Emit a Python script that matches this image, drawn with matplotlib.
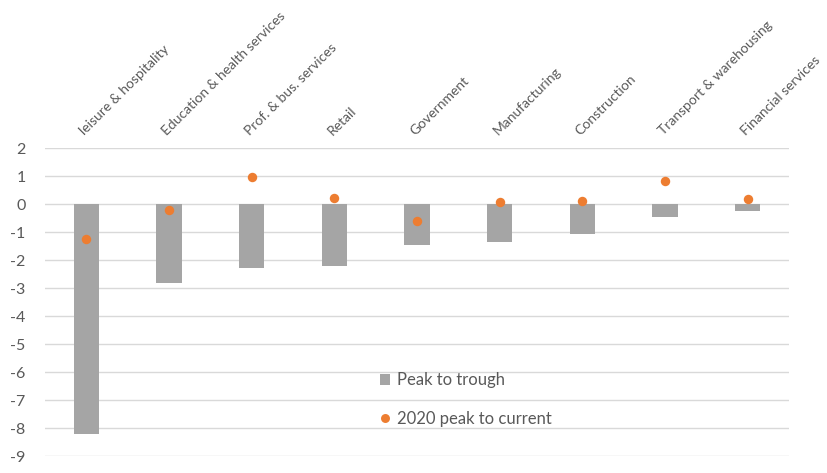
import numpy as np
import matplotlib
matplotlib.use('Agg')
import matplotlib.pyplot as plt
from matplotlib import transforms

sectors = ['leisure & hospitality', 'Education & health services', 'Prof. & bus. services',
           'Retail', 'Government', 'Manufacturing', 'Construction',
           'Transport & warehousing', 'Financial services']
peak_to_trough = [-8.2, -2.83, -2.28, -2.23, -1.46, -1.34, -1.08, -0.46, -0.24]
peak_to_current = [-1.25, -0.22, 0.95, 0.22, -0.6, 0.07, 0.11, 0.83, 0.17]
yticks = list(range(-9, 3))

grey_txt = '#595959'
plt.rcParams['font.family'] = ['Lato', 'DejaVu Sans']

fig = plt.figure(figsize=(8.27, 4.73), dpi=100)
ax = fig.add_axes([45/827, 1 - 456/473, 744/827, 308/473])

x = np.arange(len(sectors))
bars = ax.bar(x, peak_to_trough, width=0.31, color='#A5A5A5', label='Peak to trough', zorder=2)
dots, = ax.plot(x, peak_to_current, 'o', color='#ED7D31', markersize=6.8, markeredgewidth=0,
                label='2020 peak to current', zorder=3)

ax.set_xlim(-0.5, len(sectors) - 0.5)
ax.set_ylim(-9, 2)
ax.set_yticks(yticks)
ax.set_yticklabels([str(v) for v in yticks])
ax.grid(axis='y', color='#D9D9D9', linewidth=1, zorder=0)
ax.set_axisbelow(True)
ax.set_xticks([])
for s in ax.spines.values():
    s.set_visible(False)
ax.tick_params(axis='y', length=0, labelsize=11.5, labelcolor=grey_txt, pad=14)

# category names sit above the plot, slanted
trans = transforms.blended_transform_factory(ax.transData, ax.transAxes)
trans = trans + transforms.ScaledTranslation(0, 12/100, fig.dpi_scale_trans)
for xi, name in zip(x, sectors):
    ax.text(xi - 0.02, 1.0, name, transform=trans, rotation=45, rotation_mode='anchor',
            ha='left', va='baseline', fontsize=10, color=grey_txt)

leg = ax.legend([bars, dots], ['Peak to trough', '2020 peak to current'],
                loc='upper left', bbox_to_anchor=(0.43, 0.32), frameon=False,
                labelspacing=1.33, handlelength=0.6, handletextpad=0.4,
                fontsize=12, markerscale=0.95)
for t in leg.get_texts():
    t.set_color(grey_txt)

fig.savefig('out.png', dpi=100)
